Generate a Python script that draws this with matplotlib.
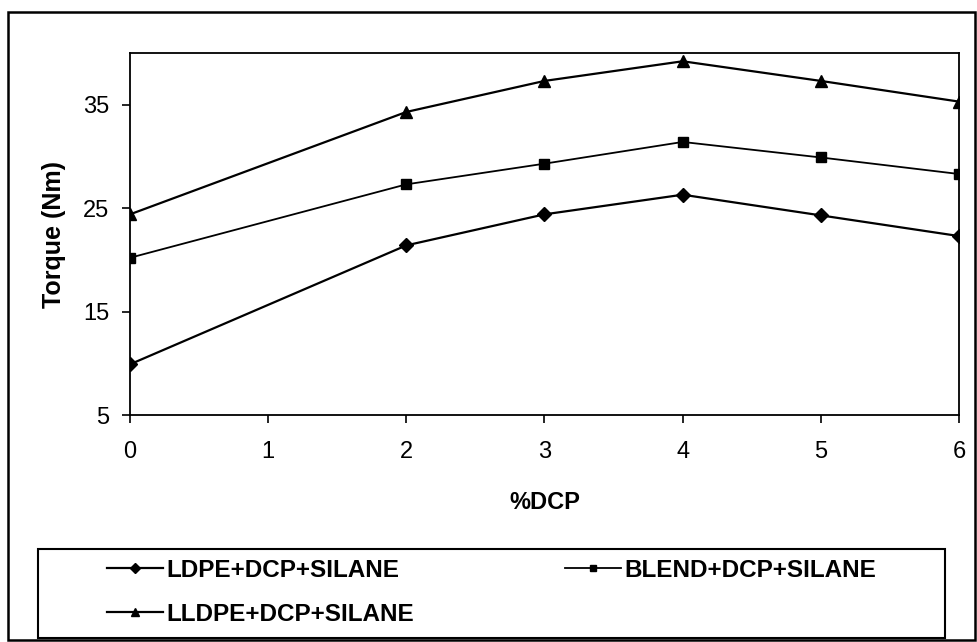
import matplotlib.pyplot as plt
from matplotlib.patches import Rectangle

plt.rcParams['font.family'] = ['Liberation Sans', 'DejaVu Sans']

# data
dcp = [0, 2, 3, 4, 5, 6]
ldpe = [9.9, 21.4, 24.4, 26.3, 24.3, 22.3]
blend = [20.2, 27.3, 29.3, 31.4, 29.9, 28.3]
lldpe = [24.4, 34.3, 37.3, 39.2, 37.3, 35.3]
labels = ['LDPE+DCP+SILANE', 'BLEND+DCP+SILANE', 'LLDPE+DCP+SILANE']

W, H = 978, 642
fig = plt.figure(figsize=(W / 100, H / 100), dpi=100)
ax = fig.add_axes([130 / W, 1 - 415 / H, (959 - 130) / W, (415 - 53) / H])

l1, = ax.plot(dcp, ldpe, color='black', lw=1.6, marker='D', ms=7)
l2, = ax.plot(dcp, blend, color='black', lw=1.3, marker='s', ms=7)
l3, = ax.plot(dcp, lldpe, color='black', lw=1.6, marker='^', ms=8)

ax.set_xlim(0, 6)
ax.set_ylim(5, 40)
ax.set_xticks(range(0, 7))
ax.set_yticks([5, 15, 25, 35])
ax.tick_params(direction='out', length=6, width=1.2, labelsize=17)
ax.tick_params(axis='x', pad=13)
ax.tick_params(axis='y', pad=9)
for s in ax.spines.values():
    s.set_linewidth(1.3)

ax.set_xlabel('%DCP', fontsize=17, fontweight='bold', labelpad=20)
ax.set_ylabel('Torque (Nm)', fontsize=18, fontweight='bold', labelpad=12)

# legend box
fig.patches.append(Rectangle((38 / W, 1 - 638 / H), (945 - 38) / W, (638 - 549) / H,
                             transform=fig.transFigure, fill=False, ec='black', lw=1.5))
# column-major order so LDPE and BLEND sit on the first row
leg = fig.legend([l1, l3, l2], [labels[0], labels[2], labels[1]], loc='upper left',
                 bbox_to_anchor=(107 / W, 1 - 559 / H), ncol=2, frameon=False,
                 prop={'size': 17.5, 'weight': 'bold'}, handlelength=2.3,
                 handletextpad=0.15, columnspacing=6.2, labelspacing=0.85,
                 borderpad=0, borderaxespad=0, markerscale=0.7)

# outer frame
fig.patches.append(Rectangle((8 / W, 1 - 640 / H), (975 - 8) / W, (640 - 12) / H,
                             transform=fig.transFigure, fill=False, ec='black', lw=1.8))

fig.savefig('out.png', dpi=100)
